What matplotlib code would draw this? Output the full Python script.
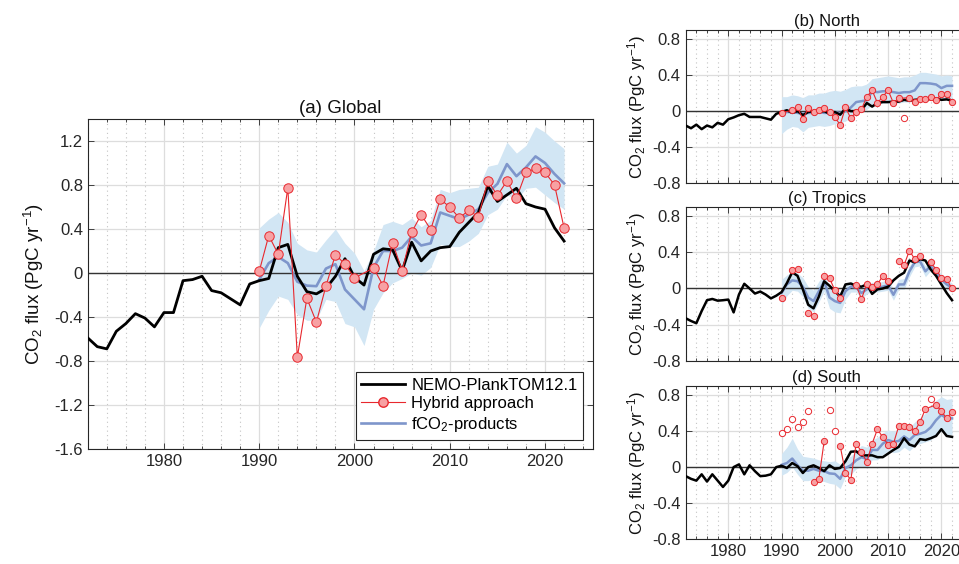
import numpy as np
import matplotlib
matplotlib.use("Agg")
import matplotlib.pyplot as plt
from matplotlib.ticker import MultipleLocator, FixedLocator, FuncFormatter
from matplotlib.lines import Line2D

plt.rcParams['font.family'] = ['Liberation Sans', 'DejaVu Sans']
plt.rcParams['mathtext.default'] = 'regular'
plt.rcParams['axes.unicode_minus'] = False

# ---------------- data ----------------
model_years = list(range(1972, 2023))
obs_years = list(range(1990, 2023))

# (a) Global
glob_model = [-0.59, -0.67, -0.69, -0.53, -0.46, -0.37, -0.41, -0.49, -0.36, -0.36,
              -0.07, -0.06, -0.03, -0.16, -0.18, -0.235, -0.29, -0.10, -0.07, -0.05,
              0.23, 0.26, -0.03, -0.17, -0.19, -0.14, -0.03, 0.13, -0.04, -0.11,
              0.17, 0.22, 0.21, 0.02, 0.28, 0.11, 0.20, 0.23, 0.24, 0.37,
              0.46, 0.55, 0.79, 0.65, 0.71, 0.77, 0.63, 0.60, 0.58, 0.41, 0.29]
glob_prod = [-0.06, 0.09, 0.146, 0.09, -0.08, -0.115, -0.12, 0.04, 0.08, -0.15,
             -0.24, -0.33, 0.05, 0.20, 0.20, 0.23, 0.33, 0.25, 0.27, 0.55,
             0.52, 0.49, 0.53, 0.58, 0.73, 0.81, 0.99, 0.88, 0.96, 1.06,
             1.00, 0.90, 0.815]
glob_upper = [0.41, 0.49, 0.55, 0.46, 0.27, 0.21, 0.19, 0.30, 0.40, 0.27,
              0.18, 0.02, 0.20, 0.44, 0.47, 0.44, 0.50, 0.42, 0.48, 0.76,
              0.73, 0.76, 0.77, 0.78, 0.97, 0.99, 1.19, 1.09, 1.16, 1.33,
              1.28, 1.20, 1.13]
glob_lower = [-0.50, -0.34, -0.21, -0.24, -0.38, -0.43, -0.43, -0.24, -0.26, -0.46,
              -0.49, -0.66, -0.33, -0.18, -0.09, -0.05, 0.00, -0.02, 0.05, 0.26,
              0.24, 0.24, 0.29, 0.36, 0.53, 0.58, 0.71, 0.67, 0.77, 0.78,
              0.71, 0.64, 0.58]
glob_hyb_years = [1990, 1991, 1992, 1993, 1994, 1995, 1996, 1997, 1998, 1999, 2000,
                  2002, 2003, 2004, 2005, 2006, 2007, 2008, 2009, 2010, 2011, 2012,
                  2013, 2014, 2015, 2016, 2017, 2018, 2019, 2020, 2021, 2022]
glob_hyb = [0.015, 0.34, 0.17, 0.775, -0.766, -0.23, -0.447, -0.12, 0.167, 0.08, -0.045,
            0.045, -0.115, 0.275, 0.02, 0.37, 0.53, 0.395, 0.67, 0.60, 0.50, 0.57,
            0.51, 0.84, 0.705, 0.836, 0.68, 0.915, 0.95, 0.915, 0.80, 0.41]
glob_open_years = []
glob_open = []

# (b) North
north_model = [-0.16, -0.19, -0.15, -0.20, -0.16, -0.18, -0.13, -0.15, -0.09, -0.07,
               -0.045, -0.03, -0.065, -0.065, -0.065, -0.08, -0.095, -0.03, -0.01, 0.01,
               -0.02, 0.00, -0.045, -0.01, 0.00, -0.01, 0.00, -0.03, -0.01, -0.04,
               0.03, 0.00, 0.00, 0.01, 0.09, 0.05, 0.09, 0.10, 0.10, 0.105,
               0.105, 0.125, 0.115, 0.125, 0.13, 0.125, 0.135, 0.14, 0.125, 0.13, 0.115]
north_prod = [-0.03, -0.01, -0.01, -0.02, -0.03, -0.02, -0.02, -0.01, -0.02, -0.02,
              -0.01, -0.02, 0.00, 0.04, 0.10, 0.11, 0.12, 0.22, 0.21, 0.22,
              0.22, 0.21, 0.20, 0.21, 0.21, 0.23, 0.31, 0.31, 0.305, 0.295,
              0.255, 0.28, 0.28]
north_upper = [0.16, 0.16, 0.18, 0.17, 0.15, 0.18, 0.18, 0.20, 0.20, 0.22,
               0.23, 0.22, 0.24, 0.27, 0.28, 0.28, 0.30, 0.36, 0.37, 0.38,
               0.39, 0.38, 0.37, 0.38, 0.38, 0.40, 0.43, 0.43, 0.42, 0.41,
               0.39, 0.40, 0.39]
north_lower = [-0.25, -0.20, -0.17, -0.18, -0.23, -0.18, -0.17, -0.16, -0.17, -0.16,
               -0.14, -0.13, -0.11, -0.07, -0.02, 0.00, 0.02, 0.07, 0.08, 0.09,
               0.09, 0.09, 0.09, 0.10, 0.10, 0.12, 0.16, 0.16, 0.15, 0.14,
               0.12, 0.14, 0.14]
north_hyb_years = [1990, 1992, 1993, 1994, 1995, 1996, 1997, 1998, 1999, 2000, 2001,
                   2002, 2003, 2004, 2005, 2006, 2007, 2008, 2009, 2010, 2011, 2012,
                   2014, 2015, 2016, 2017, 2018, 2019, 2020, 2021, 2022]
north_hyb = [-0.02, 0.01, 0.04, -0.09, 0.03, -0.01, 0.01, 0.03, -0.01, -0.07, -0.15,
             0.04, -0.08, -0.01, 0.02, 0.16, 0.23, 0.09, 0.16, 0.23, 0.09, 0.14,
             0.15, 0.105, 0.135, 0.13, 0.155, 0.125, 0.185, 0.19, 0.105]
north_open_years = [2013]
north_open = [-0.075]

# (c) Tropics
trop_model = [-0.33, -0.36, -0.385, -0.25, -0.13, -0.116, -0.135, -0.13, -0.123, -0.265,
              -0.067, 0.052, 0.00, -0.056, -0.034, -0.067, -0.11, -0.08, -0.04, 0.06,
              0.18, 0.14, -0.01, -0.18, -0.22, -0.09, 0.08, 0.03, -0.03, -0.09,
              0.045, 0.055, 0.03, 0.02, 0.045, -0.06, -0.01, 0.00, 0.02, 0.09,
              0.14, 0.175, 0.31, 0.29, 0.325, 0.31, 0.21, 0.14, 0.045, -0.05, -0.13]
trop_prod = [-0.05, 0.045, 0.09, 0.08, 0.02, -0.10, -0.14, -0.03, 0.08, -0.10,
             -0.14, -0.16, -0.03, 0.02, 0.01, -0.05, -0.01, 0.02, 0.01, 0.02,
             0.035, -0.07, 0.045, 0.045, 0.19, 0.29, 0.30, 0.19, 0.25, 0.175,
             0.10, 0.045, 0.01]
trop_upper = [0.10, 0.15, 0.18, 0.17, 0.12, 0.02, -0.02, 0.08, 0.15, 0.02,
              0.00, -0.04, 0.05, 0.07, 0.06, 0.02, 0.04, 0.07, 0.06, 0.08,
              0.09, 0.00, 0.10, 0.11, 0.25, 0.34, 0.35, 0.25, 0.30, 0.23,
              0.16, 0.10, 0.06]
trop_lower = [-0.18, -0.08, -0.02, -0.03, -0.09, -0.22, -0.26, -0.15, -0.03, -0.22,
              -0.26, -0.27, -0.12, -0.04, -0.04, -0.11, -0.06, -0.03, -0.04, -0.03,
              -0.02, -0.13, -0.01, -0.01, 0.13, 0.24, 0.25, 0.13, 0.20, 0.12,
              0.04, -0.01, -0.04]
trop_hyb_years = obs_years
trop_hyb = [-0.10, np.nan, 0.20, 0.22, np.nan, -0.27, -0.31, np.nan, 0.14, 0.115,
            -0.02, -0.10, np.nan, np.nan, 0.035, -0.115, 0.05, 0.015, 0.045, 0.14,
            0.08, np.nan, 0.31, 0.26, 0.42, 0.325, 0.36, np.nan, 0.29, 0.21,
            0.12, 0.10, 0.00]
trop_open_years = []
trop_open = []

# (d) South
south_model = [-0.10, -0.13, -0.15, -0.08, -0.16, -0.08, -0.15, -0.22, -0.15, 0.00,
               0.03, -0.08, 0.02, -0.045, -0.10, -0.095, -0.08, 0.00, 0.015, -0.01,
               0.045, 0.01, -0.065, 0.00, 0.02, -0.01, -0.045, 0.02, -0.02, -0.01,
               0.065, 0.17, 0.175, 0.13, 0.13, 0.13, 0.11, 0.11, 0.15, 0.19,
               0.225, 0.32, 0.25, 0.23, 0.31, 0.30, 0.32, 0.345, 0.42, 0.345, 0.335]
south_prod = [0.025, 0.045, 0.095, 0.02, -0.04, -0.04, -0.02, -0.04, -0.045, -0.07,
              -0.075, -0.13, -0.01, 0.02, 0.075, 0.11, 0.09, 0.19, 0.19, 0.26,
              0.30, 0.28, 0.29, 0.34, 0.30, 0.355, 0.37, 0.39, 0.44, 0.52,
              0.58, 0.54, 0.54]
south_upper = [0.15, 0.22, 0.32, 0.20, 0.12, 0.11, 0.10, 0.08, 0.07, 0.06,
               0.07, 0.03, 0.10, 0.12, 0.18, 0.24, 0.22, 0.30, 0.33, 0.38,
               0.41, 0.40, 0.42, 0.48, 0.44, 0.50, 0.55, 0.60, 0.68, 0.74,
               0.78, 0.75, 0.76]
south_lower = [-0.09, -0.06, 0.00, -0.08, -0.15, -0.15, -0.13, -0.15, -0.16, -0.18,
               -0.19, -0.24, -0.10, -0.08, -0.02, 0.01, -0.01, 0.08, 0.08, 0.14,
               0.18, 0.16, 0.17, 0.22, 0.18, 0.24, 0.26, 0.28, 0.30, 0.36,
               0.40, 0.36, 0.36]
south_hyb_years = [1996, 1997, 1998, 1999, 2001, 2002, 2003, 2004, 2005, 2006, 2007,
                   2008, 2009, 2010, 2011, 2012, 2013, 2014, 2015, 2016, 2017,
                   2019, 2020, 2021, 2022]
south_hyb = [-0.16, -0.13, 0.29, np.nan, 0.235, -0.065, -0.14, 0.26, 0.17, 0.055, 0.26,
             0.42, 0.33, 0.25, 0.26, 0.455, 0.45, 0.44, 0.40, 0.50, 0.645,
             0.69, 0.62, 0.54, 0.61]
south_open_years = [1990, 1991, 1992, 1993, 1994, 1995, 1999, 2000, 2018]
south_open = [0.38, 0.425, 0.53, 0.44, 0.50, 0.62, 0.63, 0.40, 0.755]

legend_labels = ['NEMO-PlankTOM12.1', 'Hybrid approach', 'fCO$_2$-products']

# ---------------- style ----------------
BLACK = '#000000'
RED = '#E8282E'
PINK = '#F7A1A3'
BLUE = '#7E96CB'
BAND = '#D2E6F4'
AXC = '#262626'

fig = plt.figure(figsize=(9.59, 5.64), dpi=100)


def style_axes(ax, ylim, yticks, show_xlabels=True, fs=12):
    ax.set_xlim(1972, 2025)
    ax.set_ylim(*ylim)
    ax.xaxis.set_major_locator(MultipleLocator(10))
    ax.xaxis.set_minor_locator(MultipleLocator(2))
    ax.yaxis.set_major_locator(FixedLocator(yticks))
    ax.yaxis.set_major_formatter(FuncFormatter(lambda v, p: '0' if abs(v) < 1e-9 else f'{v:.1f}'))
    ax.grid(which='major', color='#dddddd', linewidth=0.9, linestyle='-')
    ax.grid(which='minor', axis='x', color='#c4c4c4', linewidth=0.8, linestyle=(0, (1, 3)))
    ax.set_axisbelow(True)
    ax.tick_params(which='both', direction='in', top=True, right=True, labelsize=fs,
                   color=AXC, labelcolor=AXC, width=0.6)
    ax.tick_params(which='major', length=4)
    ax.tick_params(which='minor', length=2.5)
    if not show_xlabels:
        ax.tick_params(axis='x', labelbottom=False)
    for s in ax.spines.values():
        s.set_color(AXC)
        s.set_linewidth(0.8)


def draw_panel(ax, model, prod, upper, lower, hyb_years, hyb, open_years, open_vals,
               ms, lw_black, lw_blue):
    ax.fill_between(obs_years, lower, upper, color=BAND, linewidth=0, zorder=1)
    ax.axhline(0, color='#333333', linewidth=1.0, zorder=2)
    ax.plot(obs_years, prod, color=BLUE, linewidth=lw_blue, zorder=3)
    ax.plot(model_years, model, color=BLACK, linewidth=lw_black, zorder=4)
    ax.plot(hyb_years, hyb, color=RED, linewidth=0.8, marker='o', markersize=ms,
            markerfacecolor=PINK, markeredgecolor=RED, markeredgewidth=0.7, zorder=5)
    if open_years:
        ax.plot(open_years, open_vals, linestyle='none', marker='o', markersize=ms,
                markerfacecolor='white', markeredgecolor=RED, markeredgewidth=0.7, zorder=5)


ylab = 'CO$_2$ flux (PgC yr$^{-1}$)'

# Global
axg = fig.add_axes([0.0915, 0.204, 0.5265, 0.585])
style_axes(axg, (-1.6, 1.4), [-1.6, -1.2, -0.8, -0.4, 0, 0.4, 0.8, 1.2], fs=12)
draw_panel(axg, glob_model, glob_prod, glob_upper, glob_lower, glob_hyb_years, glob_hyb,
           glob_open_years, glob_open, ms=6.8, lw_black=2.0, lw_blue=1.9)
axg.set_title('(a) Global', fontsize=13.5, pad=4, color='#111111')
axg.set_ylabel(ylab, fontsize=13.5, labelpad=6, color='#111111')
handles = [Line2D([], [], color=BLACK, linewidth=2.0),
           Line2D([], [], color=RED, linewidth=0.8, marker='o', markersize=6.8,
                  markerfacecolor=PINK, markeredgecolor=RED),
           Line2D([], [], color=BLUE, linewidth=1.9)]
leg = axg.legend(handles, legend_labels, loc='lower right', fontsize=12,
                 fancybox=False, framealpha=1, edgecolor=AXC, handlelength=2.6,
                 borderaxespad=0.55, borderpad=0.35, labelspacing=0.22, handletextpad=0.4)
leg.get_frame().set_linewidth(0.8)

small_ticks = [-0.8, -0.4, 0, 0.4, 0.8]
panels = [
    ('(b) North', 0.675, north_model, north_prod, north_upper, north_lower,
     north_hyb_years, north_hyb, north_open_years, north_open, False),
    ('(c) Tropics', 0.3605, trop_model, trop_prod, trop_upper, trop_lower,
     trop_hyb_years, trop_hyb, trop_open_years, trop_open, False),
    ('(d) South', 0.0438, south_model, south_prod, south_upper, south_lower,
     south_hyb_years, south_hyb, south_open_years, south_open, True),
]
for title, bottom, m, p, u, l, hy, h, oy, o, showx in panels:
    ax = fig.add_axes([0.715, bottom, 0.2944, 0.272])
    style_axes(ax, (-0.8, 0.9), small_ticks, show_xlabels=showx, fs=12)
    draw_panel(ax, m, p, u, l, hy, h, oy, o, ms=4.5, lw_black=1.8, lw_blue=1.8)
    ax.set_title(title, fontsize=12, pad=3, color='#111111')
    ax.set_ylabel(ylab, fontsize=12, labelpad=3, color='#111111')

fig.savefig('out.png', dpi=100)
